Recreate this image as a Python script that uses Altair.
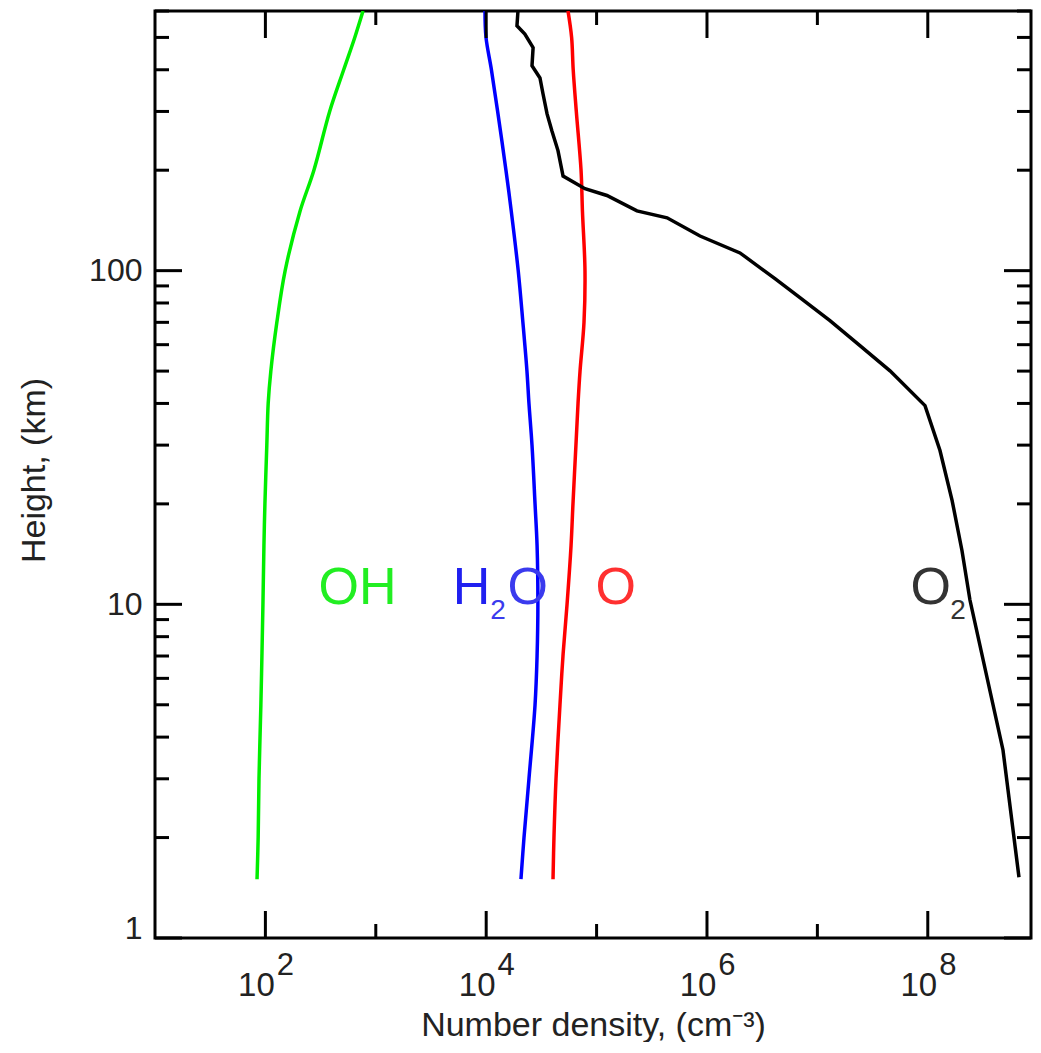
import altair as alt
import pandas as pd

# ---------------- data ----------------
H_STD = [1.5, 2, 3, 5, 7, 10, 15, 20, 30, 40, 50, 70, 100, 150, 200, 300, 400, 500, 600]
OH_N = [84, 86, 87.5, 91, 93, 95, 97, 99, 103, 106, 112, 127, 151, 205, 275, 382, 512, 645, 766]
H2O_N = [20650, 22000, 24400, 27700, 28900, 29400, 28900, 27700, 26000, 24400, 23400, 21500,
         19500, 16900, 15100, 12700, 11150, 9960, 9750]
O_N = [40300, 41100, 42900, 46600, 49600, 54000, 58700, 61100, 65000, 67900, 70800, 76900,
       78500, 74500, 72300, 65500, 61400, 59400, 55100]
O2_H = [1.52, 3.66, 10.3, 14.5, 20.5, 28.9, 39.4, 50.1, 59.6, 70.8, 83, 94.6, 113, 127, 144,
        151, 168, 176, 192, 229, 262, 295, 339, 378, 411, 466, 512, 542, 600]
O2_N = [6.7e8, 4.8e8, 2.41e8, 2.04e8, 1.66e8, 1.29e8, 9.44e7, 4.55e7, 2.43e7, 1.3e7, 6.95e6,
        4.13e6, 1.99e6, 8.65e5, 4.35e5, 2.32e5, 1.24e5, 7.85e4, 4.97e4, 4.47e4, 3.94e4, 3.56e4,
        3.27e4, 3.07e4, 2.6e4, 2.66e4, 2.24e4, 1.9e4, 1.94e4]

SPECIES = ["OH", "H2O", "O", "O2"]
LINE_COLORS = ["#00ee00", "#0000ff", "#ff0000", "#000000"]

X_MAJOR = [1e2, 1e4, 1e6, 1e8]
X_MAJOR_EXP = ["2", "4", "6", "8"]
X_MINOR = [1e3, 1e5, 1e7]
Y_MAJOR = [1, 10, 100]
Y_MINOR = [2, 3, 4, 5, 6, 7, 8, 9, 20, 30, 40, 50, 60, 70, 80, 90, 200, 300, 400, 500, 600]

LBL_TEXT = ["OH", "H", "O", "O", "O"]
LBL_N = [303, 4980, 15600, 97700, 6.97e7]
LBL_H = [10, 10, 10, 10, 10]
LBL_COLOR = ["#22ee22", "#2020f0", "#3a3aee", "#ff3030", "#333333"]
SUB_TEXT = ["2", "2"]
SUB_N = [10870, 1.6e8]
SUB_H = [9.02, 9.02]
SUB_COLOR = ["#3a3aee", "#333333"]

X_TITLE = "Number density, (cm\u207b\u00b3)"
Y_TITLE = "Height, (km)"

# ---------------- chart ----------------
W, H = 876, 927
MAJ, MIN = 27, 14
xscale = alt.Scale(type="log", domain=[10, 8.61e8], nice=False)
yscale = alt.Scale(type="log", domain=[1, 600], nice=False)

XAX = alt.Axis(labels=False, ticks=False, domain=False, grid=False,
               title=X_TITLE, titleFontSize=34, titleFontWeight="normal",
               titleColor="#222222", titleY=97, titleBaseline="alphabetic")
YAX = alt.Axis(values=Y_MAJOR, labelExpr="datum.value", ticks=False, domain=False,
               grid=False, labelFontSize=32, labelColor="#222222", labelPadding=13,
               labelBaseline={"condition": {"test": "datum.value == 1", "value": "alphabetic"},
                              "value": "middle"},
               title=Y_TITLE, titleFontSize=34, titleFontWeight="normal",
               titleColor="#222222", titleX=-104, titleY=459, titleBaseline="bottom")


def X(field):
    return alt.X(field, scale=xscale, axis=XAX)


def Y(field):
    return alt.Y(field, scale=yscale, axis=YAX)


rows = []
for sp, hs, ns in zip(SPECIES, [H_STD, H_STD, H_STD, O2_H], [OH_N, H2O_N, O_N, O2_N]):
    for h, n in zip(hs, ns):
        rows.append({"species": sp, "h": h, "n": n})
df = pd.DataFrame(rows)
color_enc = alt.Color("species:N", scale=alt.Scale(domain=SPECIES, range=LINE_COLORS), legend=None)

smooth = alt.Chart(df).transform_filter(alt.datum.species != "O2").mark_line(
    strokeWidth=3.5, clip=True, interpolate="catmull-rom").encode(
    x=X("n:Q"), y=Y("h:Q"), color=color_enc, order="h:Q")
o2line = alt.Chart(df).transform_filter(alt.datum.species == "O2").mark_line(
    strokeWidth=3.5, clip=True).encode(
    x=X("n:Q"), y=Y("h:Q"), color=color_enc, order="h:Q")


def xticks(vals, length, top):
    d = pd.DataFrame({"v": vals})
    y0, y1 = (0, length) if top else (H - length, H)
    return alt.Chart(d).mark_rule(color="black", strokeWidth=3).encode(
        x=X("v:Q"), y=alt.value(y0), y2=alt.value(y1))


def yticks(vals, length, right):
    d = pd.DataFrame({"v": vals})
    x0, x1 = (W - length, W) if right else (0, length)
    return alt.Chart(d).mark_rule(color="black", strokeWidth=3).encode(
        y=Y("v:Q"), x=alt.value(x0), x2=alt.value(x1))


ticks = [xticks(X_MAJOR, MAJ, False), xticks(X_MAJOR, MAJ, True),
         xticks(X_MINOR, MIN, False), xticks(X_MINOR, MIN, True),
         yticks(Y_MAJOR, MAJ, False), yticks(Y_MAJOR, MAJ, True),
         yticks(Y_MINOR, MIN, False), yticks(Y_MINOR, MIN, True)]

xlab_df = pd.DataFrame({"v": X_MAJOR, "e": X_MAJOR_EXP})
xlab_base = alt.Chart(xlab_df).mark_text(fontSize=33, align="center", baseline="alphabetic",
                                         dx=-9, color="#222222").encode(
    x=X("v:Q"), y=alt.value(H + 58), text=alt.value("10"))
xlab_exp = alt.Chart(xlab_df).mark_text(fontSize=31, align="center", baseline="alphabetic",
                                        dx=20, color="#222222").encode(
    x=X("v:Q"), y=alt.value(H + 37), text="e:N")

lbl_df = pd.DataFrame({"t": LBL_TEXT, "n": LBL_N, "h": LBL_H, "c": LBL_COLOR})
labels = alt.Chart(lbl_df).mark_text(fontSize=52, align="left", baseline="alphabetic").encode(
    x=X("n:Q"), y=Y("h:Q"), text="t:N", color=alt.Color("c:N", scale=None))
sub_df = pd.DataFrame({"t": SUB_TEXT, "n": SUB_N, "h": SUB_H, "c": SUB_COLOR})
subs = alt.Chart(sub_df).mark_text(fontSize=28, align="left", baseline="alphabetic").encode(
    x=X("n:Q"), y=Y("h:Q"), text="t:N", color=alt.Color("c:N", scale=None))

chart = alt.layer(smooth, o2line, *ticks, xlab_base, xlab_exp, labels, subs).resolve_scale(
    color="independent"
).properties(
    width=W, height=H,
    padding={"left": 147, "top": 3, "right": 2, "bottom": 104},
    autosize=alt.AutoSizeParams(type="none"),
    background="white",
).configure(font="Liberation Sans").configure_view(stroke="black", strokeWidth=3)

chart.save("out.html", embed_options={"renderer": "svg", "actions": False})
